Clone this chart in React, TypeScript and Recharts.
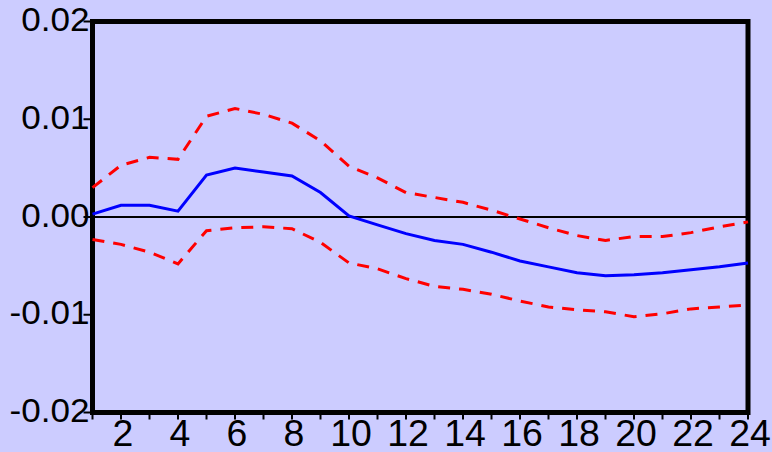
import { LineChart, Line, XAxis, YAxis, ReferenceLine, ReferenceArea } from 'recharts';

const periods = [1, 2, 3, 4, 5, 6, 7, 8, 9, 10, 11, 12, 13, 14, 15, 16, 17, 18, 19, 20, 21, 22, 23, 24];
const response = [
  0.0003, 0.0012, 0.0012, 0.0006, 0.0043, 0.0050, 0.0046, 0.0042, 0.0025, 0.0001, -0.0008, -0.0017,
  -0.0024, -0.0028, -0.0036, -0.0045, -0.0051, -0.0057, -0.0060, -0.0059, -0.0057, -0.0054, -0.0051, -0.0047,
];
const upperBand = [
  0.0030, 0.0053, 0.0061, 0.0059, 0.0103, 0.0111, 0.0105, 0.0096, 0.0078, 0.0052, 0.0040, 0.0025,
  0.0020, 0.0015, 0.0007, -0.0002, -0.0011, -0.0019, -0.0024, -0.0020, -0.0020, -0.0016, -0.0010, -0.0005,
];
const lowerBand = [
  -0.0023, -0.0028, -0.0036, -0.0048, -0.0014, -0.0011, -0.0010, -0.0012, -0.0026, -0.0047, -0.0053, -0.0063,
  -0.0071, -0.0074, -0.0079, -0.0086, -0.0092, -0.0095, -0.0097, -0.0102, -0.0099, -0.0094, -0.0092, -0.0090,
];
const yTicks = [-0.02, -0.01, 0, 0.01, 0.02];
const yTickLabels = ['-0.02', '-0.01', '0.00', '0.01', '0.02'];
const xLabelled = [2, 4, 6, 8, 10, 12, 14, 16, 18, 20, 22, 24];

const data = periods.map((p, i) => ({
  period: p,
  response: response[i],
  upper: upperBand[i],
  lower: lowerBand[i],
}));

const FONT = '"Liberation Sans", Arial, sans-serif';

const YTick = ({ x, y, payload }: any) => {
  const idx = yTicks.indexOf(payload.value);
  return (
    <g>
      <line x1={x - 9} x2={x} y1={y} y2={y} stroke="#000" strokeWidth={2} />
      <text
        transform={`translate(${x - 3},${y - 2}) scale(1.08,1)`}
        textAnchor="end"
        dominantBaseline="central"
        fontSize={32.5}
        fontFamily={FONT}
        fill="#000"
      >
        {idx >= 0 ? yTickLabels[idx] : ''}
      </text>
    </g>
  );
};

const XTick = ({ x, y, payload }: any) => (
  <g>
    <line x1={x} x2={x} y1={y} y2={y + 7} stroke="#000" strokeWidth={2} />
    {xLabelled.includes(payload.value) && (
      <text
        transform={`translate(${x + 2},${y + 21}) scale(1.04,1)`}
        textAnchor="middle"
        dominantBaseline="central"
        fontSize={36}
        fontFamily={FONT}
        fill="#000"
      >
        {payload.value}
      </text>
    )}
  </g>
);

export default function App() {
  return (
    <div style={{ position: 'fixed', left: 0, top: 0, width: 772, height: 452, background: '#CCCCFF' }}>
      <LineChart
        width={772}
        height={452}
        data={data}
        margin={{ top: 21.5, right: 24, bottom: 0, left: 0 }}
      >
        <XAxis
          dataKey="period"
          type="number"
          domain={[1, 24]}
          ticks={periods}
          interval={0}
          height={39.5}
          axisLine={false}
          tickLine={false}
          tickSize={0}
          tickMargin={0}
          tick={<XTick />}
        />
        <YAxis
          type="number"
          domain={[-0.02, 0.02]}
          ticks={yTicks}
          interval={0}
          width={92.5}
          axisLine={false}
          tickLine={false}
          tickSize={0}
          tickMargin={0}
          tick={<YTick />}
        />
        <ReferenceLine y={0} stroke="#000" strokeWidth={2} />
        <Line dataKey="upper" stroke="#FF0000" strokeWidth={3} strokeDasharray="12 9" dot={false} isAnimationActive={false} />
        <Line dataKey="lower" stroke="#FF0000" strokeWidth={3} strokeDasharray="12 9" dot={false} isAnimationActive={false} />
        <Line dataKey="response" stroke="#0000FF" strokeWidth={3} dot={false} isAnimationActive={false} />
        <ReferenceArea x1={1} x2={24} y1={-0.02} y2={0.02} fill="none" stroke="#000" strokeWidth={5} />
      </LineChart>
    </div>
  );
}
